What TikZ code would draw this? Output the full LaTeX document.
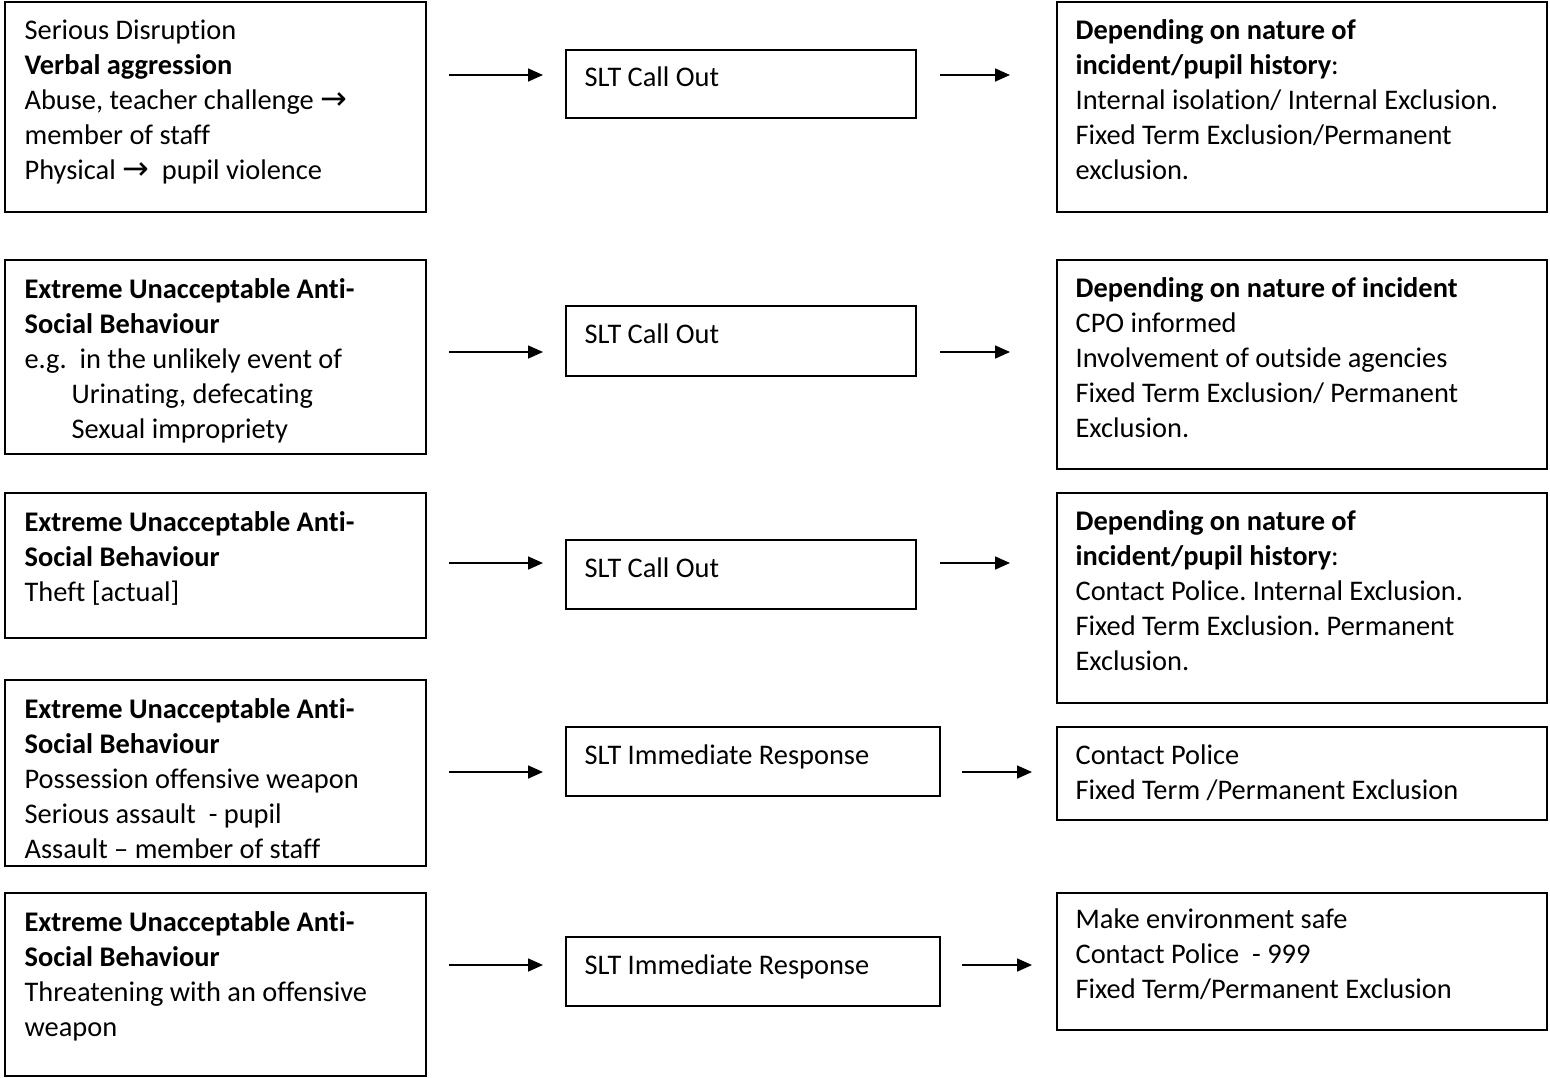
\documentclass[tikz,border=0pt]{standalone}
\usepackage{fontspec}
\setmainfont{Carlito}[Ligatures=NoCommon]
\newfontfamily\arrowfont{DejaVu Sans}
\usepackage{tikz}
\usetikzlibrary{positioning, calc, fit, arrows.meta}
\frenchspacing

\newcommand{\rarr}{{\arrowfont\fontsize{16}{17.5}\selectfont →}}

\tikzset{
  box/.style={draw, line width=0.8pt, inner sep=0pt},
  txt/.style={anchor=north west, inner sep=0pt, align=left, font=\fontsize{14.2}{17.5}\selectfont},
  flow/.style={line width=0.8pt, -{Triangle[length=7.5pt, width=6.5pt]}}
}

\begin{document}
\begin{tikzpicture}[x=0.5pt, y=-0.5pt]

%// page frame, pixel units, y downwards
\useasboundingbox (0,0) rectangle (1550,1077);

%// left column
\node [box, fit={(5,2) (426,212)}] (l1) {};
\node [box, fit={(5,260) (426,454)}] (l2) {};
\node [box, fit={(5,493) (426,638)}] (l3) {};
\node [box, fit={(5,680) (426,866)}] (l4) {};
\node [box, fit={(5,893) (426,1076)}] (l5) {};

%// middle column
\node [box, fit={(566,50) (916,118)}] (m1) {};
\node [box, fit={(566,306) (916,376)}] (m2) {};
\node [box, fit={(566,540) (916,609)}] (m3) {};
\node [box, fit={(566,727) (940,796)}] (m4) {};
\node [box, fit={(566,937) (940,1006)}] (m5) {};

%// right column
\node [box, fit={(1057,2) (1547,212)}] (r1) {};
\node [box, fit={(1057,260) (1547,469)}] (r2) {};
\node [box, fit={(1057,493) (1547,703)}] (r3) {};
\node [box, fit={(1057,727) (1547,820)}] (r4) {};
\node [box, fit={(1057,893) (1547,1030)}] (r5) {};

%// texts
\node [txt] (l1t) at ($(l1.north west)+(20,18.5)$) {Serious Disruption\\ \textbf{Verbal aggression}\\ Abuse, teacher challenge \rarr\\ member of staff\\ Physical \rarr\ \ pupil violence};
\node [txt] (l2t) at ($(l2.north west)+(20,18.5)$) {\textbf{Extreme Unacceptable Anti-}\\ \textbf{Social Behaviour}\\ e.g.\ \ in the unlikely event of\\ \hspace*{23.5pt}Urinating, defecating\\ \hspace*{23.5pt}Sexual impropriety};
\node [txt] (l3t) at ($(l3.north west)+(20,18.5)$) {\textbf{Extreme Unacceptable Anti-}\\ \textbf{Social Behaviour}\\ Theft [actual]};
\node [txt] (l4t) at ($(l4.north west)+(20,18.5)$) {\textbf{Extreme Unacceptable Anti-}\\ \textbf{Social Behaviour}\\ Possession offensive weapon\\ Serious assault\ \ - pupil\\ Assault -- member of staff};
\node [txt] (l5t) at ($(l5.north west)+(20,18.5)$) {\textbf{Extreme Unacceptable Anti-}\\ \textbf{Social Behaviour}\\ Threatening with an offensive\\ weapon};

\foreach \n/\dy/\val in {m1/17/SLT Call Out, m2/18/SLT Call Out, m3/18/SLT Call Out, m4/18/SLT Immediate Response, m5/18/SLT Immediate Response}
\node [txt] (\n t) at ($(\n.north west)+(19,\dy)$) {\val};

\node [txt] (r1t) at ($(r1.north west)+(19,17.5)$) {\textbf{Depending on nature of}\\ \textbf{incident/pupil history}:\\ Internal isolation/ Internal Exclusion.\\ Fixed Term Exclusion/Permanent\\ exclusion.};
\node [txt] (r2t) at ($(r2.north west)+(19,17.5)$) {\textbf{Depending on nature of incident}\\ CPO informed\\ Involvement of outside agencies\\ Fixed Term Exclusion/ Permanent\\ Exclusion.};
\node [txt] (r3t) at ($(r3.north west)+(19,17.5)$) {\textbf{Depending on nature of}\\ \textbf{incident/pupil history}:\\ Contact Police. Internal Exclusion.\\ Fixed Term Exclusion. Permanent\\ Exclusion.};
\node [txt] (r4t) at ($(r4.north west)+(19,18)$) {Contact Police\\ Fixed Term /Permanent Exclusion};
\node [txt] (r5t) at ($(r5.north west)+(19,16)$) {Make environment safe\\ Contact Police\ \ - 999\\ Fixed Term/Permanent Exclusion};

%// arrows
\foreach \i/\y/\a/\b in {1/75/940/1010, 2/352/940/1010, 3/563/940/1010, 4/772/962/1032, 5/965/962/1032}{
  \coordinate (p\i) at (449,\y);
  \coordinate (q\i) at (543,\y);
  \coordinate (s\i) at (\a,\y);
  \coordinate (e\i) at (\b,\y);
  \draw [flow] (p\i) -- (q\i);
  \draw [flow] (s\i) -- (e\i);
}

\end{tikzpicture}
\end{document}
